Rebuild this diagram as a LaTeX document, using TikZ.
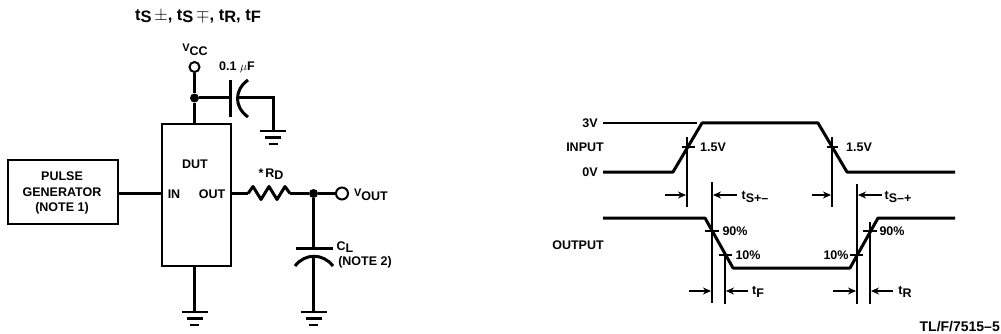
\documentclass[tikz,border=0pt]{standalone}
\usepackage{fontspec}
\setmainfont{Liberation Sans}
\usepackage{tikz}
\usetikzlibrary{arrows.meta, positioning}
\newcommand{\dn}[1]{\raisebox{-2.5pt}{#1}}
\newcommand{\up}[1]{\raisebox{2pt}{\fontsize{11}{11}\selectfont #1}}

\begin{document}
\begin{tikzpicture}[
    x = 1pt, y = -1pt,
    punkt/.style = {rectangle, draw, line width=2.8pt, inner sep=0pt},
    wire/.style = {line width=3pt},
    wave/.style = {line width=3pt, line join=round},
    fine/.style = {line width=1.1pt},
    pil/.style = {line width=1.1pt, -{Stealth[length=8pt,width=7pt]}},
    lab/.style = {inner sep=0pt, align=center},
    pin/.style = {circle, draw, line width=2pt, inner sep=0pt, minimum size=10pt},
    dot/.style = {circle, fill, inner sep=0pt, minimum size=9pt},
    gnd/.pic = {
      \draw[line width=2.4pt] (-13,0) -- (13,0);
      \draw[line width=2.4pt] (-8,6.5) -- (8,6.5);
      \draw[line width=2.4pt] (-4.5,13) -- (4.5,13);
    },
    font=\bfseries\fontsize{12.5}{15}\selectfont
    ]
  \useasboundingbox (0,0) rectangle (1001,334);

  % circuit
  \node[lab, font=\bfseries\fontsize{16.5}{16}\selectfont] (title) at (198,16)
    {t\dn{S}\,$\pm$, t\dn{S}\,$\mp$, t\dn{R}, t\dn{F}};
  \node[punkt, minimum width=110pt, minimum height=64pt] (gen) at (63,192) {};
  \node[lab] at (62,176) (gen1) {PULSE};
  \node[lab] at (62,192) (gen2) {GENERATOR};
  \node[lab] at (62,208) (gen3) {(NOTE 1)};
  \node[punkt, minimum width=69pt, minimum height=142pt] (dut) at (196.5,195) {};
  \node[lab] (dutl) at (195,164) {DUT};
  \node[lab] (inl) at (174,194) {IN};
  \node[lab] (outl) at (212,194) {OUT};

  \node[pin] (vcc) at (194.5,67) {};
  \node[lab] (vccl) at (195,50) {\up{V}\dn{CC}};
  \node[dot] (jv) at (194.5,98) {};
  \node[lab] (cvl) at (237,67) {0.1 $\mu$F};
  \coordinate (dtop) at (194.5,124);
  \coordinate (dbot) at (194.5,266);
  \coordinate (c1) at (230,98);
  \coordinate (c2) at (238,98);
  \coordinate (cc) at (273,98);
  \coordinate (g1) at (273,131);
  \coordinate (g2) at (194.5,312);
  \coordinate (g3) at (313.5,312);

  \node[dot] (jo) at (313.5,193.5) {};
  \node[pin, minimum size=12pt] (vout) at (342,193.5) {};
  \node[lab] (voutl) at (371,195) {\up{V}\dn{OUT}};
  \node[lab] (rdl) at (271,174) {*\,R\dn{D}};
  \coordinate (dout) at (231,193.5);
  \coordinate (r1) at (248,193.5);
  \coordinate (r2) at (290,193.5);
  \coordinate (p1) at (313.5,248);
  \coordinate (p2) at (313.5,257);
  \node[lab] (cll) at (345,247) {C\dn{L}};
  \node[lab] (n2l) at (365,262) {(NOTE 2)};

  \draw[wire]
  (dout -| gen.east) -- (dout -| dut.west)
  (vcc) -- (jv)
  (jv) -- (dtop)
  (jv) -- (c1)
  (dbot) -- (g2)
  (dout) -- (r1)
  (r2) -- (jo)
  (jo) -- (vout)
  (jo) -- (p1)
  (p2) -- (g3);
  \draw[wire] (c2) -- (cc) -- (g1);
  \draw[wire, line join=round] (r1) -- ++(5,-7) -- ++(8,13) -- ++(8,-13) -- ++(8,13) -- ++(8,-13) -- (r2);

  \draw[wire] (230,80) -- (230,117);
  \draw[wire] (248,80) .. controls (234,90) and (234,107) .. (248,117);
  \draw[wire] (296,248) -- (333,248);
  \draw[wire] (295,266) .. controls (305,253) and (323,253) .. (333,266);

  \pic at (g1) {gnd};
  \pic at (g2) {gnd};
  \pic at (g3) {gnd};

  % waveforms
  \node[lab] (v3) at (590,123) {3V};
  \node[lab] (v0) at (590,172) {0V};
  \node[lab] (inpl) at (585,147) {INPUT};
  \node[lab] (outpl) at (578,245) {OUTPUT};
  \node[lab] (t1) at (713,147) {1.5V};
  \node[lab] (t2) at (859,147) {1.5V};
  \node[lab] (t3) at (735,231) {90\%};
  \node[lab] (t4) at (748,255) {10\%};
  \node[lab] (t5) at (836,255) {10\%};
  \node[lab] (t6) at (892,231) {90\%};
  \node[lab] (tsa) at (755,197) {t\dn{S+--}};
  \node[lab] (tsb) at (898,197) {t\dn{S--+}};
  \node[lab] (tf) at (758,292) {t\dn{F}};
  \node[lab] (tr) at (905,292) {t\dn{R}};
  \node[lab, anchor=east, font=\bfseries\fontsize{14}{15}\selectfont] (fig) at (1000,327) {TL/F/7515--5};

  \draw[fine] (603,123) -- (697,123);
  \draw[wave] (603,172) -- (673,172) -- (702,123) -- (818,123) -- (847,172) -- (955,172);
  \draw[wave] (603,218) -- (705,218) -- (733,268) -- (850,268) -- (878,218) -- (955,218);

  % crossing marks
  \draw[line width=1.5pt]
  (682,147) -- (695,147)
  (827,147) -- (838,147)
  (705,231) -- (719,231)
  (719,255) -- (732,255)
  (850,255) -- (863,255)
  (863,231) -- (877,231);

  % drop lines
  \draw[fine]
  (687,137) -- (687,207)
  (832,137) -- (832,207)
  (712,182) -- (712,303)
  (857,184) -- (857,304)
  (725,255) -- (725,304)
  (870,222) -- (870,304);

  % time arrows
  \coordinate (a1) at (665,195);
  \coordinate (a2) at (686,195);
  \coordinate (a3) at (737,195);
  \coordinate (a4) at (713,195);
  \coordinate (a5) at (812,195);
  \coordinate (a6) at (831,195);
  \coordinate (a7) at (882,195);
  \coordinate (a8) at (858,195);
  \coordinate (a9) at (689,291);
  \coordinate (a10) at (711,291);
  \coordinate (a11) at (748,291);
  \coordinate (a12) at (726,291);
  \coordinate (a13) at (833,291);
  \coordinate (a14) at (856,291);
  \coordinate (a15) at (893,291);
  \coordinate (a16) at (871,291);
  \foreach \s/\e in {a1/a2, a3/a4, a5/a6, a7/a8, a9/a10, a11/a12, a13/a14, a15/a16}
    \draw[pil] (\s) -- (\e);

\end{tikzpicture}
\end{document}
